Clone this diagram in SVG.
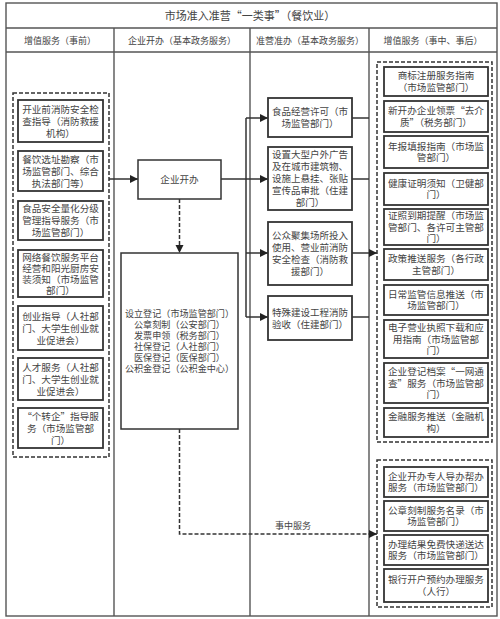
<svg xmlns="http://www.w3.org/2000/svg" width="500" height="619" viewBox="0 0 500 619">
<style>
text{font-family:"Noto Sans CJK SC","Noto Sans",sans-serif;fill:#444;text-anchor:middle}
.t{font-size:11px}
.h{font-size:9px}
.b{font-size:9.6px}
.m{font-size:9.5px}
.s{font-size:9.1px}
.grid{fill:none;stroke:#555;stroke-width:1.4}
.box{fill:#fff;stroke:#333;stroke-width:1.8}
.dash{fill:none;stroke:#333;stroke-width:1.5;stroke-dasharray:4 2}
.ln{fill:none;stroke:#333;stroke-width:1.5}
.dl{fill:none;stroke:#333;stroke-width:1.5;stroke-dasharray:4 2}
</style>
<defs>
<marker id="ar" markerUnits="userSpaceOnUse" markerWidth="9" markerHeight="9" refX="8" refY="4.5" orient="auto">
<path d="M0,0.5 L8,4.5 L0,8.5 Z" fill="#222"/>
</marker>
</defs>
<rect width="500" height="619" fill="#fff"/>
<g id="table">
<rect class="grid" x="6" y="3" width="491" height="613"/>
<line class="grid" x1="6" y1="28" x2="497" y2="28"/>
<line class="grid" x1="6" y1="52" x2="497" y2="52"/>
<line class="grid" x1="114" y1="28" x2="114" y2="616"/>
<line class="grid" x1="250" y1="28" x2="250" y2="616"/>
<line class="grid" x1="369" y1="28" x2="369" y2="616"/>
<text class="t" x="250" y="20">市场准入准营“一类事”（餐饮业）</text>
<text class="h" x="60" y="43.5">增值服务（事前）</text>
<text class="h" x="182" y="43.5">企业开办（基本政务服务）</text>
<text class="h" x="310" y="43.5">准营准办（基本政务服务）</text>
<text class="h" x="433" y="43.5">增值服务（事中、事后）</text>
</g>
<g id="connectors">
<line class="ln" x1="109" y1="179" x2="138" y2="179" marker-end="url(#ar)"/>
<line class="ln" x1="221" y1="179" x2="268" y2="179" marker-end="url(#ar)"/>
<line class="ln" x1="246" y1="118" x2="246" y2="317"/>
<line class="ln" x1="246" y1="118" x2="268" y2="118" marker-end="url(#ar)"/>
<line class="ln" x1="246" y1="253" x2="268" y2="253" marker-end="url(#ar)"/>
<line class="ln" x1="246" y1="317" x2="268" y2="317" marker-end="url(#ar)"/>
<line class="ln" x1="352" y1="118" x2="369" y2="118"/>
<line class="ln" x1="352" y1="179" x2="369" y2="179"/>
<line class="ln" x1="352" y1="317" x2="369" y2="317"/>
<line class="ln" x1="352" y1="253" x2="377" y2="253" marker-end="url(#ar)"/>
<line class="dl" x1="179.5" y1="199" x2="179.5" y2="253" marker-end="url(#ar)"/>
<polyline class="dl" points="179.5,429 179.5,534 377,534" marker-end="url(#ar)"/>
<text class="h" x="293" y="529">事中服务</text>
</g>
<g id="pre-services">
<rect class="dash" x="13" y="93" width="96" height="364"/>
<g id="n-l1"><rect class="box" x="18" y="100" width="85" height="42"/><text class="b"><tspan x="60.5" y="112.7">开业前消防安全检</tspan><tspan x="60.5" y="124.7">查指导（消防救援</tspan><tspan x="60.5" y="136.7">机构）</tspan></text></g>
<g id="n-l2"><rect class="box" x="18" y="151" width="85" height="40"/><text class="b"><tspan x="60.5" y="162.7">餐饮选址勘察（市</tspan><tspan x="60.5" y="174.7">场监管部门、综合</tspan><tspan x="60.5" y="186.7">执法部门等）</tspan></text></g>
<g id="n-l3"><rect class="box" x="18" y="201" width="85" height="39"/><text class="b"><tspan x="60.5" y="212.2">食品安全量化分级</tspan><tspan x="60.5" y="224.2">管理指导服务（市</tspan><tspan x="60.5" y="236.2">场监管部门）</tspan></text></g>
<g id="n-l4"><rect class="box" x="18" y="250" width="85" height="47"/><text class="b"><tspan x="60.5" y="260.7">网络餐饮服务平台</tspan><tspan x="60.5" y="271.7">经营和阳光厨房安</tspan><tspan x="60.5" y="282.7">装须知（市场监管</tspan><tspan x="60.5" y="293.7">部门）</tspan></text></g>
<g id="n-l5"><rect class="box" x="18" y="306" width="85" height="44"/><text class="b"><tspan x="60.5" y="319.7">创业指导（人社部</tspan><tspan x="60.5" y="331.7">门、大学生创业就</tspan><tspan x="60.5" y="343.7">业促进会）</tspan></text></g>
<g id="n-l6"><rect class="box" x="18" y="358" width="85" height="42"/><text class="b"><tspan x="60.5" y="370.7">人才服务（人社部</tspan><tspan x="60.5" y="382.7">门、大学生创业就</tspan><tspan x="60.5" y="394.7">业促进会）</tspan></text></g>
<g id="n-l7"><rect class="box" x="18" y="408" width="85" height="40"/><text class="b"><tspan x="60.5" y="419.7">“个转企”指导服</tspan><tspan x="60.5" y="431.7">务（市场监管部</tspan><tspan x="60.5" y="443.7">门）</tspan></text></g>
</g>
<g id="n-start"><rect class="box" x="138" y="160" width="83" height="39" style="stroke-width:1.5"/><text class="b" x="179.5" y="183">企业开办</text></g>
<g id="n-register"><rect class="box" x="121" y="253" width="117" height="176" style="stroke-width:1.5"/><text class="s"><tspan x="179.5" y="316.5">设立登记（市场监管部门）</tspan><tspan x="179.5" y="327.5">公章刻制（公安部门）</tspan><tspan x="179.5" y="338.5">发票申领（税务部门）</tspan><tspan x="179.5" y="349.5">社保登记（人社部门）</tspan><tspan x="179.5" y="360.5">医保登记（医保部门）</tspan><tspan x="179.5" y="371.5">公积金登记（公积金中心）</tspan></text></g>
<g id="n-m1"><rect class="box" x="268" y="98" width="84" height="39"/><text class="m"><tspan x="310" y="115.2">食品经营许可（市</tspan><tspan x="310" y="127.2">场监管部门）</tspan></text></g>
<g id="n-m2"><rect class="box" x="268" y="147" width="84" height="63"/><text class="m"><tspan x="310" y="158.1">设置大型户外广告</tspan><tspan x="310" y="170.1">及在城市建筑物、</tspan><tspan x="310" y="182.1">设施上悬挂、张贴</tspan><tspan x="310" y="194.1">宣传品审批（住建</tspan><tspan x="310" y="206.1">部门）</tspan></text></g>
<g id="n-m3"><rect class="box" x="268" y="222" width="84" height="63"/><text class="m"><tspan x="310" y="239.1">公众聚集场所投入</tspan><tspan x="310" y="251.1">使用、营业前消防</tspan><tspan x="310" y="263.1">安全检查（消防救</tspan><tspan x="310" y="275.1">援部门）</tspan></text></g>
<g id="n-m4"><rect class="box" x="268" y="296" width="84" height="44"/><text class="m"><tspan x="310" y="315.6">特殊建设工程消防</tspan><tspan x="310" y="327.6">验收（住建部门）</tspan></text></g>
<g id="post-services">
<rect class="dash" x="377" y="62" width="115" height="380"/>
<g id="n-r1"><rect class="box" x="384" y="67" width="104" height="29"/><text class="b"><tspan x="436" y="79.4">商标注册服务指南</tspan><tspan x="436" y="90.9">（市场监管部门）</tspan></text></g>
<g id="n-r2"><rect class="box" x="384" y="101" width="104" height="31"/><text class="b"><tspan x="436" y="114.4">新开办企业领票“去介</tspan><tspan x="436" y="125.9">质”（税务部门）</tspan></text></g>
<g id="n-r3"><rect class="box" x="384" y="136" width="104" height="32"/><text class="b"><tspan x="436" y="149.9">年报填报指南（市场监</tspan><tspan x="436" y="161.4">管部门）</tspan></text></g>
<g id="n-r4"><rect class="box" x="384" y="173" width="104" height="32"/><text class="b"><tspan x="436" y="186.9">健康证明须知（卫健部</tspan><tspan x="436" y="198.4">门）</tspan></text></g>
<g id="n-r5"><rect class="box" x="384" y="209" width="104" height="36"/><text class="b"><tspan x="436" y="219.1">证照到期提醒（市场监</tspan><tspan x="436" y="230.6">管部门、各许可主管部</tspan><tspan x="436" y="242.1">门）</tspan></text></g>
<g id="n-r6"><rect class="box" x="384" y="249" width="104" height="31"/><text class="b"><tspan x="436" y="262.4">政策推送服务（各行政</tspan><tspan x="436" y="273.9">主管部门）</tspan></text></g>
<g id="n-r7"><rect class="box" x="384" y="285" width="104" height="30"/><text class="b"><tspan x="436" y="297.9">日常监管信息推送（市</tspan><tspan x="436" y="309.4">场监管部门）</tspan></text></g>
<g id="n-r8"><rect class="box" x="384" y="320" width="104" height="38"/><text class="b"><tspan x="436" y="331.1">电子营业执照下载和应</tspan><tspan x="436" y="342.6">用指南（市场监管部</tspan><tspan x="436" y="354.1">门）</tspan></text></g>
<g id="n-r9"><rect class="box" x="384" y="363" width="104" height="40"/><text class="b"><tspan x="436" y="375.1">企业登记档案“一网通</tspan><tspan x="436" y="386.6">查”服务（市场监管部</tspan><tspan x="436" y="398.1">门）</tspan></text></g>
<g id="n-r10"><rect class="box" x="384" y="408" width="104" height="29"/><text class="b"><tspan x="436" y="420.4">金融服务推送（金融机</tspan><tspan x="436" y="431.9">构）</tspan></text></g>
</g>
<g id="mid-services">
<rect class="dash" x="377" y="460" width="115" height="147"/>
<g id="n-s1"><rect class="box" x="384" y="467" width="104" height="30"/><text class="b"><tspan x="436" y="479.9">企业开办专人导办帮办</tspan><tspan x="436" y="491.4">服务（市场监管部门）</tspan></text></g>
<g id="n-s2"><rect class="box" x="384" y="501" width="104" height="30"/><text class="b"><tspan x="436" y="513.9">公章刻制服务名录（市</tspan><tspan x="436" y="525.4">场监管部门）</tspan></text></g>
<g id="n-s3"><rect class="box" x="384" y="535" width="104" height="30"/><text class="b"><tspan x="436" y="547.9">办理结果免费快递送达</tspan><tspan x="436" y="559.4">服务（市场监管部门）</tspan></text></g>
<g id="n-s4"><rect class="box" x="384" y="569" width="104" height="33"/><text class="b"><tspan x="436" y="583.4">银行开户预约办理服务</tspan><tspan x="436" y="594.9">（人行）</tspan></text></g>
</g>
</svg>
